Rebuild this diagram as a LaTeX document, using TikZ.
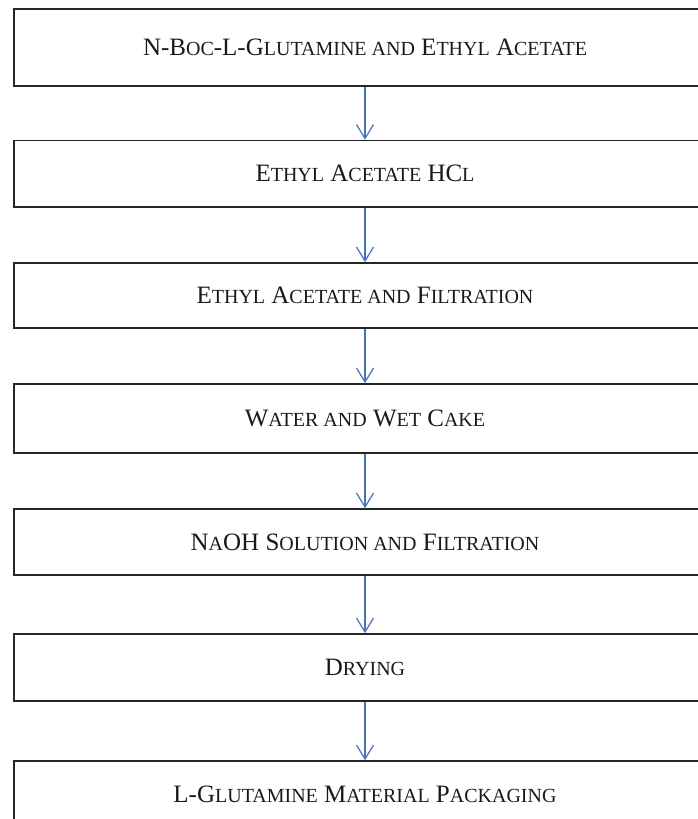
\documentclass[tikz,border=0pt]{standalone}
\usepackage{fontspec}
\setmainfont{Liberation Serif}
\usetikzlibrary{arrows.meta}
\definecolor{arrowblue}{RGB}{68,114,196}
\newcommand{\smc}[1]{{\fontsize{20}{24}\selectfont #1}}
\begin{document}
\begin{tikzpicture}[x=1pt,y=-1pt,
  stepbox/.style={draw=black!85, line width=1.6pt, minimum width=702pt, inner sep=0pt,
    font=\fontsize{25}{30}\selectfont, text=black!90},
  flow/.style={draw=arrowblue, line width=1.2pt, -{Straight Barb[length=14pt,width=17pt]}}]
\useasboundingbox (0,0) rectangle (697,819);
\node[stepbox, minimum height=77pt] (b1) at (365,47.5) {N-B\smc{OC}-L-G\smc{LUTAMINE AND} E\smc{THYL} A\smc{CETATE}};
\node[stepbox, minimum height=66.5pt] (b2) at (365,173.75) {E\smc{THYL} A\smc{CETATE} HC\smc{L}};
\node[stepbox, minimum height=65pt] (b3) at (365,295.5) {E\smc{THYL} A\smc{CETATE AND} F\smc{ILTRATION}};
\node[stepbox, minimum height=69pt] (b4) at (365,418.5) {W\smc{ATER AND} W\smc{ET} C\smc{AKE}};
\node[stepbox, minimum height=66pt] (b5) at (365,542) {N\smc{A}OH S\smc{OLUTION AND} F\smc{ILTRATION}};
\node[stepbox, minimum height=67pt] (b6) at (365,667.5) {D\smc{RYING}};
\node[stepbox, minimum height=67pt] (b7) at (365,794.5) {L-G\smc{LUTAMINE} M\smc{ATERIAL} P\smc{ACKAGING}};
\draw[flow] (b1) -- (b2);
\draw[flow] (b2) -- (b3);
\draw[flow] (b3) -- (b4);
\draw[flow] (b4) -- (b5);
\draw[flow] (b5) -- (b6);
\draw[flow] (b6) -- (b7);
\end{tikzpicture}
\end{document}
